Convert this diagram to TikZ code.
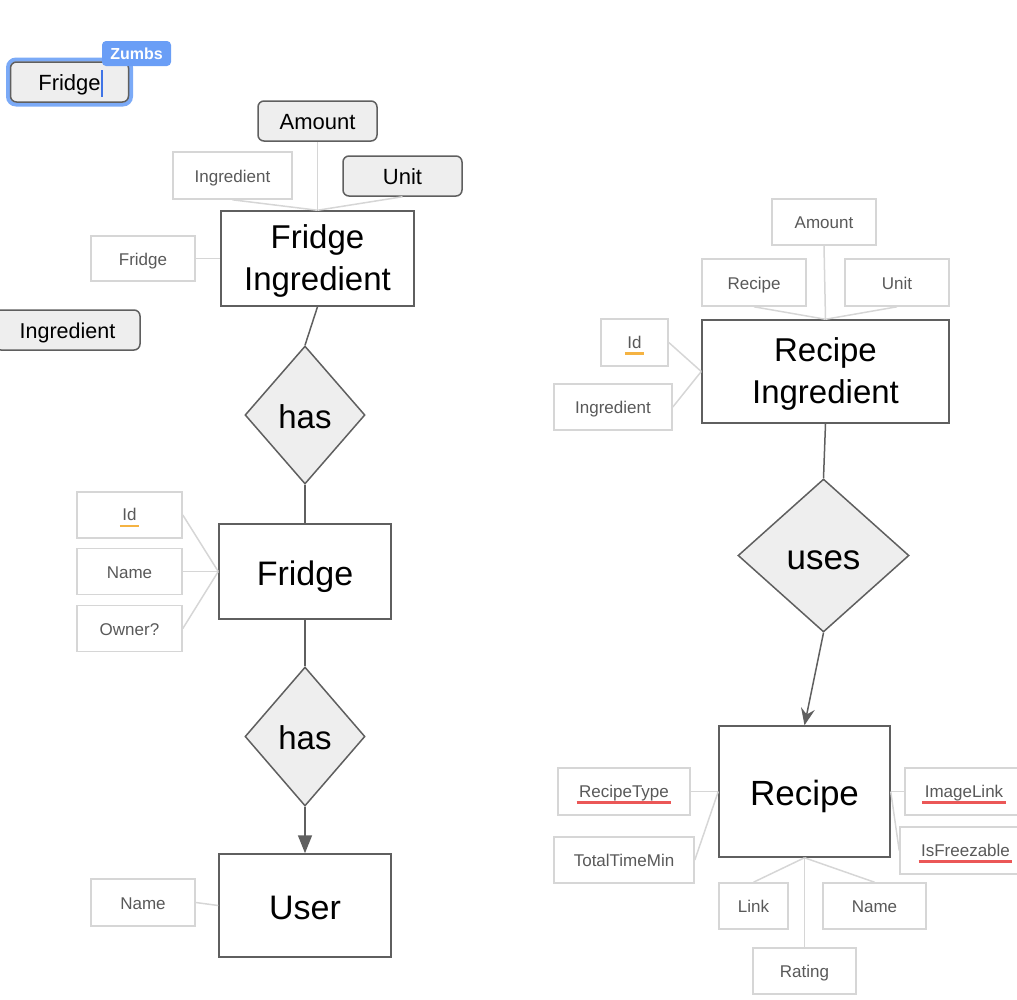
\documentclass[tikz,border=0pt]{standalone}
\usepackage{fontspec}
\setmainfont{Liberation Sans}
\usetikzlibrary{shapes.geometric,arrows.meta}
\definecolor{edgegray}{HTML}{5F5F5F}
\definecolor{attrgray}{HTML}{D6D6D6}
\definecolor{textgray}{HTML}{595959}
\definecolor{keyfill}{HTML}{EEEEEE}
\definecolor{selblue}{HTML}{7BAAF7}
\definecolor{tagblue}{HTML}{6A9EF6}
\definecolor{cursorblue}{HTML}{3F74E6}
\definecolor{idorange}{HTML}{F5B342}
\definecolor{spellred}{HTML}{EB5757}
\newcommand\twoline{\fontsize{33}{42}\selectfont}
\newcommand\linestrut{\rule[-0.25em]{0pt}{1.3em}}
\newcommand\toprow{\rule{0pt}{30pt}}
\newcommand\markline[2]{\setbox0\hbox{#2}\rlap{\kern-2.5pt\textcolor{#1}{\rule[-6.5pt]{\dimexpr\wd0+5pt\relax}{2.5pt}}}\box0}
\tikzset{
    sz/.style 2 args = {minimum width=#1pt, minimum height=#2pt},
    label-text/.style = {inner sep=0pt, execute at begin node=\linestrut},
    entity/.style = {label-text, draw=edgegray, fill=white, line width=1.5pt, align=center, font=\fontsize{34}{40}\selectfont},
    entity-two/.style = {entity, font=\twoline},
    attr/.style = {label-text, draw=attrgray, fill=white, line width=1.6pt, text=textgray, font=\fontsize{17}{20}\selectfont},
    keyattr/.style = {label-text, draw=edgegray, fill=keyfill, line width=1.5pt, rounded corners=6pt, font=\fontsize{22}{26}\selectfont},
    rel/.style = {label-text, diamond, draw=edgegray, fill=keyfill, line width=1.5pt, font=\fontsize{33}{40}\selectfont},
    attrlink/.style = {draw=attrgray, line width=1.5pt},
    rellink/.style = {draw=edgegray, line width=1.5pt},
    halo/.style = {draw=selblue, line width=4pt, rounded corners=8pt, inner sep=0pt},
    tag/.style = {fill=tagblue, rounded corners=4pt, inner sep=0pt, text=white, font=\bfseries\fontsize{16}{18}\selectfont},
}

\begin{document}
\begin{tikzpicture}[x=1pt,y=-1pt]
\useasboundingbox (0,0) rectangle (1017,999);

% loose items, top left
\node[keyattr, sz={145}{40}, font=\fontsize{21.5}{26}\selectfont] (ingkey) at (67.5,330) {Ingredient};
\node[halo, sz={123}{45}] (selhalo) at (69.5,82) {};
\node[keyattr, sz={118}{40}] (selfridge) at (69.5,82) {Fridge\rlap{\textcolor{cursorblue}{\rule[-6pt]{2.5pt}{27pt}}}};
\node[tag, sz={69}{25}] (tagzumbs) at (136.5,53.5) {Zumbs};

% fridge side
\node[keyattr, sz={119}{40}] (fiamount) at (317.5,121) {Amount};
\node[attr, sz={119}{47}] (fiing) at (232.5,175.5) {Ingredient};
\node[keyattr, sz={119}{40}] (fiunit) at (402.5,176) {Unit};
\node[entity-two, sz={193}{95}] (fi) at (317.5,258.5) {\toprow Fridge\\Ingredient};
\node[attr, sz={104}{45}] (fifridge) at (143,258.5) {Fridge};
\node[rel, sz={120}{138}] (has1) at (305,415) {has};
\node[entity, sz={172}{95}] (fridge) at (305,571.5) {Fridge};
\node[attr, sz={105}{46}] (frid) at (129.5,515) {\markline{idorange}{Id}};
\node[attr, sz={105}{46}] (frname) at (129.5,571.5) {Name};
\node[attr, sz={105}{46}] (frowner) at (129.5,628.5) {Owner?};
\node[rel, sz={120}{139}] (has2) at (305,736.5) {has};
\node[entity, sz={172}{103}] (user) at (305,905.5) {User};
\node[attr, sz={104}{47}] (username) at (143,902.5) {Name};

\draw[attrlink] (fiamount.south) -- (fi.north);
\draw[attrlink] (fiing.south) -- (fi.north);
\draw[attrlink] (fiunit.south) -- (fi.north);
\draw[attrlink] (fifridge.east) -- (fi.west);
\draw[rellink] (fi.south) -- (has1.north);
\draw[rellink] (has1.south) -- (fridge.north);
\draw[attrlink] (frid.east) -- (fridge.west);
\draw[attrlink] (frname.east) -- (fridge.west);
\draw[attrlink] (frowner.east) -- (fridge.west);
\draw[rellink] (fridge.south) -- (has2.north);
\draw[rellink, -{Triangle[length=18pt,width=14pt]}] (has2.south) -- (user.north);
\draw[attrlink] (username.east) -- (user.west);

% recipe side
\node[attr, sz={104}{46}] (riamount) at (824,222) {Amount};
\node[attr, sz={104}{47}] (rirecipe) at (754,282.5) {Recipe};
\node[attr, sz={104}{47}] (riunit) at (897,282.5) {Unit};
\node[entity-two, sz={247}{103}] (ri) at (825.5,371.5) {\toprow Recipe\\Ingredient};
\node[attr, sz={67}{47}] (riid) at (634.5,342.5) {\markline{idorange}{Id}};
\node[attr, sz={118}{46}] (riing) at (613,407) {Ingredient};
\node[rel, sz={171}{153}, font=\fontsize{35}{40}\selectfont] (uses) at (823.5,555.5) {uses};
\node[entity, sz={171}{131}, font=\fontsize{35}{40}\selectfont] (recipe) at (804.5,791.5) {Recipe};
\node[attr, sz={132}{47}] (rtype) at (624,791.5) {\markline{spellred}{RecipeType}};
\node[attr, sz={140}{46}] (rtime) at (624,860) {TotalTimeMin};
\node[attr, sz={118}{47}] (rimage) at (964,791.5) {\markline{spellred}{ImageLink}};
\node[attr, sz={131}{47}] (rfreeze) at (965.5,850.5) {\markline{spellred}{IsFreezable}};
\node[attr, sz={69}{46}] (rlink) at (753.5,906) {Link};
\node[attr, sz={103}{46}] (rname) at (874.5,906) {Name};
\node[attr, sz={103}{46}] (rrating) at (804.5,971) {Rating};

\draw[attrlink] (riamount.south) -- (ri.north);
\draw[attrlink] (rirecipe.south) -- (ri.north);
\draw[attrlink] (riunit.south) -- (ri.north);
\draw[attrlink] (riid.east) -- (ri.west);
\draw[attrlink] (riing.east) -- (ri.west);
\draw[rellink] (ri.south) -- (uses.north);
\draw[rellink, -{Stealth[length=17pt,width=14pt,inset=6pt]}] (uses.south) -- (recipe.north);
\draw[attrlink] (rtype.east) -- (recipe.west);
\draw[attrlink] (rtime.east) -- (recipe.west);
\draw[attrlink] (rimage.west) -- (recipe.east);
\draw[attrlink] (rfreeze.west) -- (recipe.east);
\draw[attrlink] (rlink.north) -- (recipe.south);
\draw[attrlink] (rname.north) -- (recipe.south);
\draw[attrlink] (rrating.north) -- (recipe.south);
\end{tikzpicture}
\end{document}
